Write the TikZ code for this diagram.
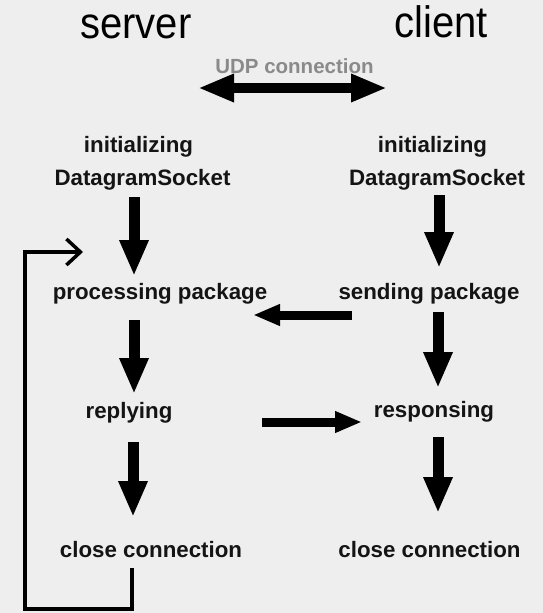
\documentclass[tikz,border=0pt]{standalone}
\usepackage{fontspec}
\setmainfont{Liberation Sans}
\usetikzlibrary{arrows.meta}
\definecolor{bgc}{HTML}{EEEEEE}
\definecolor{txc}{HTML}{141414}
\definecolor{udpc}{HTML}{8A8A8A}
\tikzset{
  head/.style={font=\fontsize{40}{46}\selectfont, text=black, anchor=base, inner sep=0pt, transform shape, yscale=1.1},
  lbl/.style={font=\fontsize{22.3}{26}\selectfont\bfseries, text=txc, anchor=base, inner sep=0pt},
  udp/.style={font=\fontsize{20.5}{24}\selectfont\bfseries, text=udpc, anchor=base, inner sep=0pt},
  bigarrow/.style={line width=11pt, -{Triangle[length=36pt,width=27pt]}},
  sidearrow/.style={line width=9pt, -{Triangle[length=27pt,width=20pt]}},
  dblarrow/.style={line width=10pt, {Triangle[length=36pt,width=26pt]}-{Triangle[length=36pt,width=26pt]}},
  loopline/.style={line width=3.5pt, line join=miter, -{Straight Barb[length=14pt,width=26pt,line width=3.5pt]}}
}
\begin{document}
\begin{tikzpicture}[x=1pt,y=-1pt]
\fill[bgc] (0,0) rectangle (543,613);
\useasboundingbox (0,0) rectangle (543,613);

% headers
\node[head] (server) at (136,38) {server};
\node[head] (client) at (441,37.5) {client};
\node[udp] (udp) at (294.5,73.5) {UDP connection};

% server column
\node[lbl] (sinit) at (138.5,152) {initializing};
\node[lbl] (ssock) at (142.5,185) {DatagramSocket};
\node[lbl] (sproc) at (160,299.5) {processing package};
\node[lbl] (srepl) at (129,418) {replying};
\node[lbl] (sclose) at (151,557) {close connection};

% client column
\node[lbl] (cinit) at (432.5,152) {initializing};
\node[lbl] (csock) at (437,185) {DatagramSocket};
\node[lbl] (csend) at (429,299) {sending package};
\node[lbl] (cresp) at (434,417) {responsing};
\node[lbl] (cclose) at (429.5,557) {close connection};

% arrow end points
\coordinate (udpL) at (198,88);
\coordinate (udpR) at (387,88);
\coordinate (s1a) at (134,197);
\coordinate (s1b) at (134,276);
\coordinate (s2a) at (134,320);
\coordinate (s2b) at (134,394);
\coordinate (s3a) at (133,442);
\coordinate (s3b) at (133,517);
\coordinate (c1a) at (439,195);
\coordinate (c1b) at (439,268);
\coordinate (c2a) at (438,312);
\coordinate (c2b) at (438,388);
\coordinate (c3a) at (438,437);
\coordinate (c3b) at (438,513);
\coordinate (la) at (352,315);
\coordinate (lb) at (253,315);
\coordinate (ra) at (262,422);
\coordinate (rb) at (362,422);
\coordinate (lp0) at (132,568);
\coordinate (lp1) at (132,609);
\coordinate (lp2) at (25,609);
\coordinate (lp3) at (25,252);
\coordinate (lp4) at (83,252);

\draw[dblarrow] (udpL) -- (udpR);
\draw[bigarrow] (s1a) -- (s1b);
\draw[bigarrow] (s2a) -- (s2b);
\draw[bigarrow] (s3a) -- (s3b);
\draw[bigarrow] (c1a) -- (c1b);
\draw[bigarrow] (c2a) -- (c2b);
\draw[bigarrow] (c3a) -- (c3b);
\draw[sidearrow] (la) -- (lb);
\draw[sidearrow] (ra) -- (rb);
\draw[loopline] (lp0) -- (lp1) -- (lp2) -- (lp3) -- (lp4);
\end{tikzpicture}
\end{document}
